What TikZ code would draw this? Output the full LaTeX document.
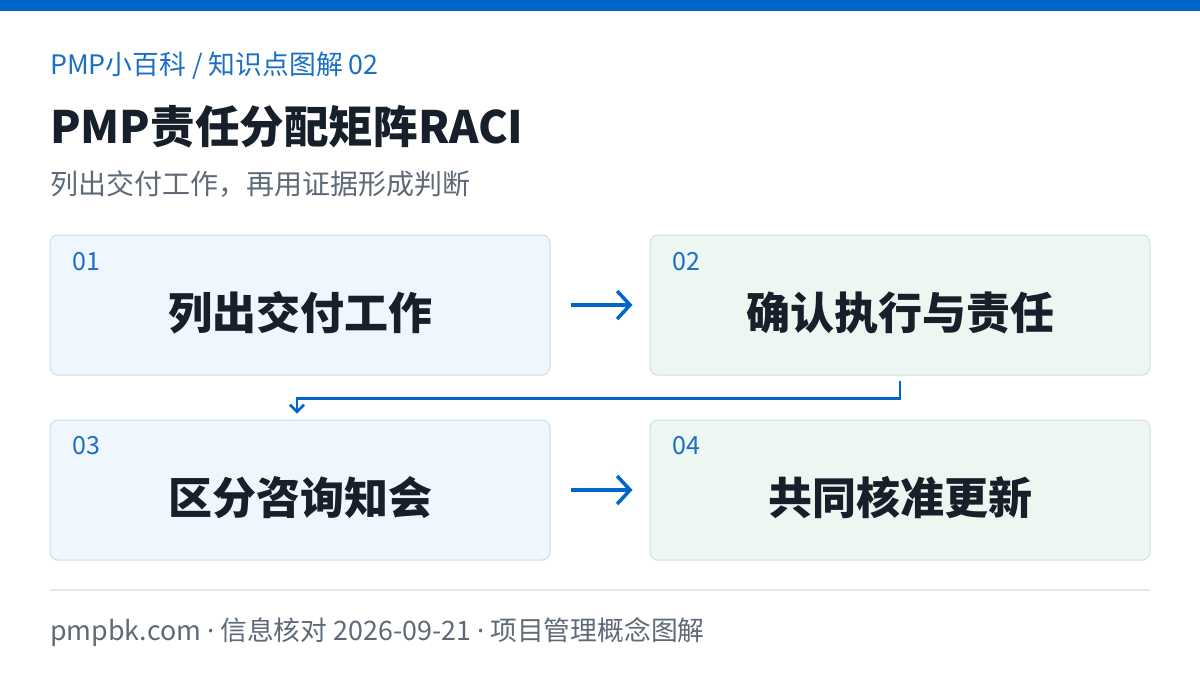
\documentclass[tikz,border=0pt]{standalone}
\usepackage{fontspec}
\setmainfont{Noto Sans CJK SC}
\newfontfamily\latinfont{Noto Sans}
\usetikzlibrary{arrows.meta,positioning,calc}
\definecolor{topblue}{HTML}{0066CC}
\definecolor{accent}{HTML}{1A6FC6}
\definecolor{titlec}{HTML}{17202A}
\definecolor{grayc}{HTML}{5E6A77}
\definecolor{bluefill}{HTML}{F0F6FD}
\definecolor{blueline}{HTML}{CADCEF}
\definecolor{greenfill}{HTML}{EEF6F2}
\definecolor{greenline}{HTML}{CFE2D8}
\definecolor{rulec}{HTML}{E6E9EC}
\newcommand{\mdot}{{\latinfont ·}}
\tikzset{
  card/.style={rounded corners=8pt, line width=1pt, minimum width=500pt, minimum height=140pt, inner sep=0pt},
  bluecard/.style={card, draw=blueline, fill=bluefill},
  greencard/.style={card, draw=greenline, fill=greenfill},
  numlabel/.style={anchor=base west, text=accent, font=\fontsize{25}{30}\selectfont, inner sep=0pt},
  cardtext/.style={text=titlec, font=\fontsize{44}{52}\selectfont\bfseries, inner sep=0pt},
  flow/.style={draw=topblue, line width=3.5pt, -{Straight Barb[length=13pt,width=28pt,line width=3.5pt]}},
  conn/.style={draw=topblue, line width=2.5pt, -{Straight Barb[length=7pt,width=14pt,line width=2.5pt]}}
}
\begin{document}
\begin{tikzpicture}[x=1pt,y=-1pt]
\useasboundingbox (0,0) rectangle (1200,675);
\fill[white] (0,0) rectangle (1200,675);
\fill[topblue] (0,0) rectangle (1200,11);
\node[anchor=base west, inner sep=0pt, text=accent, font=\fontsize{26.8}{30}\selectfont] (kicker) at (50,74) {PMP小百科 / 知识点图解 02};
\node[anchor=base west, inner sep=0pt, text=titlec, font=\fontsize{44.6}{52}\selectfont\bfseries] (title) at (50,143) {PMP责任分配矩阵RACI};
\node[anchor=base west, inner sep=0pt, text=grayc, font=\fontsize{28}{32}\selectfont] (sub) at (50,194) {列出交付工作，再用证据形成判断};
\node[bluecard] (b1) at (300,305) {};
\node[greencard] (b2) at (900,305) {};
\node[bluecard] (b3) at (300,490) {};
\node[greencard] (b4) at (900,490) {};
\node[numlabel] (n1) at (72,270) {01};
\node[numlabel] (n2) at (672,270) {02};
\node[numlabel] (n3) at (72,454) {03};
\node[numlabel] (n4) at (672,454) {04};
\node[cardtext] (t1) at (300,313) {列出交付工作};
\node[cardtext] (t2) at (900,313) {确认执行与责任};
\node[cardtext] (t3) at (300,498) {区分咨询知会};
\node[cardtext] (t4) at (900,498) {共同核准更新};
\draw[flow, shorten <=20pt, shorten >=17pt] (b1.east) -- (b2.west);
\draw[flow, shorten <=20pt, shorten >=17pt] (b3.east) -- (b4.west);
\draw[conn, shorten <=5pt, shorten >=6pt] (b2.south) -- ++(0,23) -| ([xshift=-3pt]b3.north);
\draw[rulec, line width=1.2pt] (50,590) -- (1150,590);
\node[anchor=base west, inner sep=0pt, text=grayc, font=\fontsize{26.8}{30}\selectfont] (foot) at (50,640) {pmpbk.com \mdot{} 信息核对 2026-09-21 \mdot{} 项目管理概念图解};
\end{tikzpicture}
\end{document}
